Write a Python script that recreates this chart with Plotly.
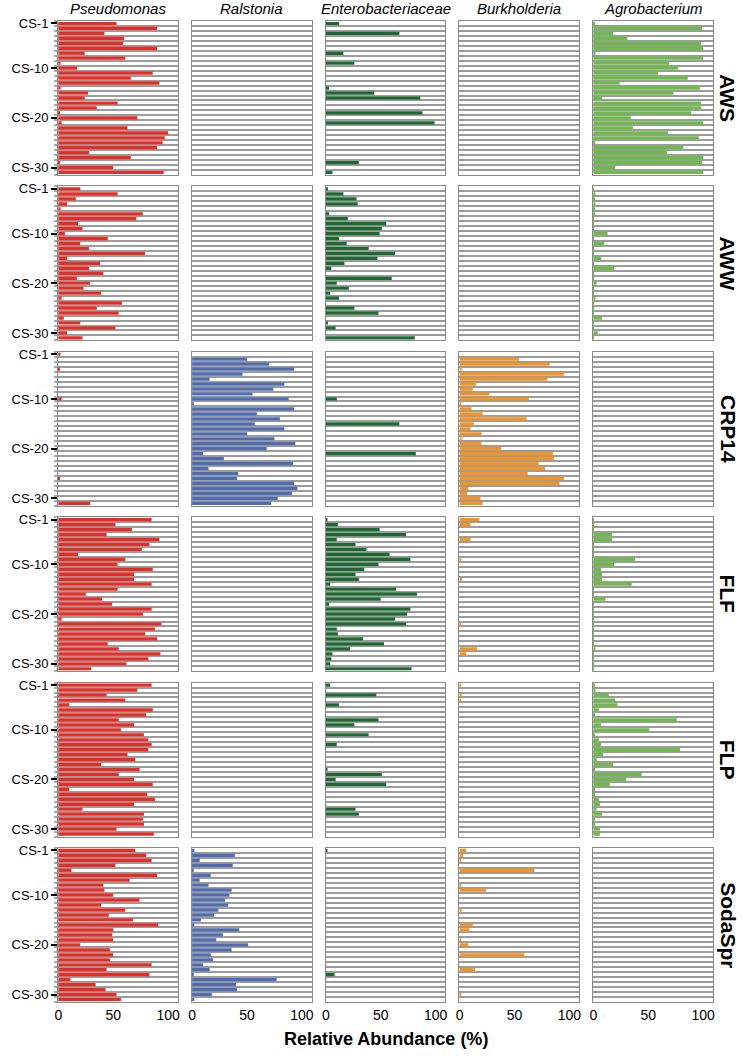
import plotly.graph_objects as go
from plotly.subplots import make_subplots

# relative abundance (%) of five taxa in 31 samples (CS-1 .. CS-31) per site

SITES = ["AWS", "AWW", "CRP14", "FLF", "FLP", "SodaSpr"]
TAXA = ["Pseudomonas", "Ralstonia", "Enterobacteriaceae", "Burkholderia", "Agrobacterium"]
TAXA_COLORS = ["#ec2a23", "#4e6cb3", "#1b6a30", "#f6941f", "#6cbd45"]
SAMPLE_NO = list(range(1, 32))
TICK_SAMPLES = [1, 10, 20, 30]
TICK_LABELS = ["CS-1", "CS-10", "CS-20", "CS-30"]
X_TICKS = [0, 50, 100]

AWS_PSEUDO = [53, 90, 42, 60, 59, 90, 24, 61, 2, 17, 86, 66, 92, 2, 27, 24, 54, 35, 1, 72,
              3, 63, 100, 97, 95, 90, 28, 66, 1, 50, 96]
AWS_ENTERO = [12, 0, 67, 0, 0, 0, 16, 0, 26, 0, 0, 0, 0, 3, 44, 86, 0, 0, 88, 0,
              99, 0, 0, 0, 0, 0, 0, 0, 30, 0, 6]
AWS_AGRO = [1, 99, 18, 31, 98, 100, 2, 100, 69, 77, 59, 86, 24, 97, 73, 8, 98, 98, 89, 34,
            100, 36, 68, 96, 1, 82, 67, 100, 99, 20, 100]

AWW_PSEUDO = [20, 54, 16, 8, 2, 77, 71, 18, 22, 6, 45, 20, 28, 79, 8, 38, 28, 41, 17, 29,
              23, 39, 3, 58, 35, 55, 5, 20, 52, 8, 22]
AWW_ENTERO = [2, 16, 28, 29, 0, 3, 20, 55, 51, 49, 12, 19, 39, 63, 47, 17, 5, 0, 60, 10,
              21, 4, 12, 0, 26, 48, 0, 2, 9, 0, 81]
AWW_AGRO = [0.5, 2, 1, 2, 1, 1, 0.5, 0.5, 0.5, 13, 0.5, 10, 0.5, 0.5, 7, 0.5, 19, 0.5, 0.5, 3,
            0.5, 0.5, 2, 0.5, 0.5, 0.5, 8, 0.5, 0.5, 4, 0.5]

CRP14_PSEUDO = [2, 0, 0, 1, 0, 0, 0, 0, 0, 3, 0, 0, 0, 0, 0, 0, 0, 0, 0, 0,
                0, 0, 0, 0, 0, 1, 0, 0, 0, 0, 29]
CRP14_RALS = [0, 50, 70, 93, 46, 16, 84, 74, 55, 88, 1, 93, 59, 80, 57, 84, 50, 75, 94, 68,
              10, 29, 92, 15, 42, 41, 93, 96, 91, 78, 72]
CRP14_ENTERO = [0, 0, 0, 0, 0, 0, 0, 0, 0, 10, 0, 0, 0, 0, 67, 0, 0, 0, 0, 0,
                82, 0, 0, 0, 0, 0, 0, 0, 0, 0, 0]
CRP14_BURK = [0, 54, 82, 2, 95, 80, 15, 12, 27, 63, 1, 11, 21, 61, 13, 10, 20, 2, 20, 38,
              85, 86, 72, 78, 62, 95, 91, 8, 7, 19, 21]

FLF_PSEUDO = [85, 52, 67, 44, 92, 83, 76, 18, 61, 54, 86, 69, 69, 85, 54, 25, 40, 49, 85, 77,
              3, 94, 88, 79, 90, 45, 55, 93, 82, 62, 30]
FLF_ENTERO = [1, 11, 49, 73, 10, 27, 37, 58, 77, 48, 35, 27, 30, 4, 64, 83, 50, 3, 77, 74,
              63, 73, 10, 11, 34, 53, 22, 6, 5, 4, 78]
FLF_BURK = [18, 10, 0, 0, 10, 0, 0, 0, 1, 0, 0, 0, 2, 0, 0, 0, 0, 0, 0, 0,
            0, 1, 0, 0, 0, 0, 16, 6, 0, 0, 0]
FLF_AGRO = [0.5, 0.5, 0.5, 17, 17, 0.5, 0.5, 0.5, 38, 19, 7, 8, 8, 35, 0.5, 0.5, 11, 0.5, 0.5, 0.5,
            0.5, 0.5, 0.5, 0.5, 0.5, 0.5, 2, 0.5, 0.5, 0.5, 0.5]

FLP_PSEUDO = [85, 72, 44, 61, 10, 86, 80, 55, 69, 57, 78, 82, 85, 82, 63, 70, 39, 74, 55, 69,
              86, 10, 81, 88, 69, 22, 78, 77, 78, 53, 87]
FLP_ENTERO = [4, 0, 46, 0, 12, 0, 0, 48, 26, 0, 39, 0, 10, 0, 0, 0, 0, 1, 51, 9,
              55, 0, 0, 0, 0, 27, 30, 0, 0, 0, 0]
FLP_BURK = [1, 0, 2, 1, 0, 0, 0, 0, 0, 0, 0, 0, 0, 0, 0, 0, 0, 0, 0, 0,
            0, 0, 0, 0, 0, 0, 0, 0, 0, 0, 0]
FLP_AGRO = [1, 2, 14, 20, 22, 5, 1, 76, 7, 51, 1, 5, 7, 79, 9, 3, 18, 1, 44, 30,
            15, 1, 1, 5, 6, 3, 8, 1, 1, 6, 6]

SODA_PSEUDO = [70, 80, 85, 52, 12, 90, 65, 41, 42, 50, 74, 39, 61, 46, 68, 91, 50, 49, 50, 20,
               47, 50, 47, 85, 44, 83, 11, 34, 43, 53, 57]
SODA_RALS = [2, 39, 7, 37, 1, 17, 7, 15, 36, 34, 30, 33, 24, 20, 8, 2, 43, 28, 22, 51,
             36, 17, 19, 10, 16, 1, 77, 40, 41, 18, 2]
SODA_ENTERO = [1, 0, 0, 0, 0, 0, 0, 0, 0, 0, 0, 0, 0, 0, 0, 0, 0, 0, 0, 0,
               0, 0, 0, 0, 0, 8, 0, 0, 0, 0, 0]
SODA_BURK = [6, 3, 1, 0, 68, 0, 0, 1, 24, 0, 0, 0, 2, 0, 0, 12, 9, 0, 1, 8,
             0, 59, 0, 0, 14, 0, 0, 0, 0, 1, 0]

# panels not listed here are empty
abundance = {
    ("AWS", "Pseudomonas"): AWS_PSEUDO,
    ("AWS", "Enterobacteriaceae"): AWS_ENTERO,
    ("AWS", "Agrobacterium"): AWS_AGRO,
    ("AWW", "Pseudomonas"): AWW_PSEUDO,
    ("AWW", "Enterobacteriaceae"): AWW_ENTERO,
    ("AWW", "Agrobacterium"): AWW_AGRO,
    ("CRP14", "Pseudomonas"): CRP14_PSEUDO,
    ("CRP14", "Ralstonia"): CRP14_RALS,
    ("CRP14", "Enterobacteriaceae"): CRP14_ENTERO,
    ("CRP14", "Burkholderia"): CRP14_BURK,
    ("FLF", "Pseudomonas"): FLF_PSEUDO,
    ("FLF", "Enterobacteriaceae"): FLF_ENTERO,
    ("FLF", "Burkholderia"): FLF_BURK,
    ("FLF", "Agrobacterium"): FLF_AGRO,
    ("FLP", "Pseudomonas"): FLP_PSEUDO,
    ("FLP", "Enterobacteriaceae"): FLP_ENTERO,
    ("FLP", "Burkholderia"): FLP_BURK,
    ("FLP", "Agrobacterium"): FLP_AGRO,
    ("SodaSpr", "Pseudomonas"): SODA_PSEUDO,
    ("SodaSpr", "Ralstonia"): SODA_RALS,
    ("SodaSpr", "Enterobacteriaceae"): SODA_ENTERO,
    ("SodaSpr", "Burkholderia"): SODA_BURK,
}

FONT = "Liberation Sans, Arial, Helvetica, sans-serif"
GRID = "#9c9c9c"

fig = make_subplots(rows=len(SITES), cols=len(TAXA),
                    horizontal_spacing=0.021, vertical_spacing=0.0116)

for r, site in enumerate(SITES, 1):
    for c, (taxon, color) in enumerate(zip(TAXA, TAXA_COLORS), 1):
        vals = abundance.get((site, taxon), [])
        # empty panels still get a (data-less) trace so that their axes are drawn
        fig.add_trace(go.Bar(x=vals, y=SAMPLE_NO[:len(vals)], orientation="h", width=0.64,
                             marker=dict(color=color, line_width=0),
                             showlegend=False, hovertemplate="%{x}%<extra></extra>"),
                      row=r, col=c)
        fig.update_xaxes(range=[-0.3, 109], tickvals=X_TICKS, showticklabels=(r == len(SITES)),
                         ticks="", showgrid=False, zeroline=False,
                         showline=True, mirror=True, linecolor="#8a8a8a", linewidth=1,
                         tickfont=dict(size=14, color="black"), row=r, col=c)
        fig.update_yaxes(range=[31.5, 0.5], tickvals=TICK_SAMPLES, ticktext=TICK_LABELS,
                         showticklabels=(c == 1), ticks="outside" if c == 1 else "",
                         ticklen=6, tickwidth=1.5, tickcolor="black",
                         showgrid=False, zeroline=False,
                         showline=True, mirror=True, linecolor="#8a8a8a", linewidth=1,
                         tickfont=dict(size=13, color="black"),
                         minor=dict(tickmode="linear", tick0=0.5, dtick=1,
                                    showgrid=True, gridcolor=GRID, gridwidth=1.8,
                                    ticks="outside" if c == 1 else "", ticklen=3,
                                    tickcolor="#aaaaaa"),
                         row=r, col=c)

# column titles (taxa) above the first row
for c, taxon in enumerate(TAXA, 1):
    fig.add_annotation(text="<i>" + taxon + "</i>", xref="x%d domain" % c if c > 1 else "x domain",
                       yref="y%d domain" % c if c > 1 else "y domain", x=0.5, y=1.078,
                       showarrow=False, yanchor="middle", font=dict(size=15, color="black"))

# row labels (sites) on the right
for r, site in enumerate(SITES, 1):
    idx = (r - 1) * len(TAXA) + 1
    fig.add_annotation(text="<b>" + site + "</b>", xref="paper",
                       yref="y%d domain" % idx if idx > 1 else "y domain",
                       x=1.0226, y=0.5, textangle=90, showarrow=False,
                       xanchor="center", yanchor="middle", font=dict(size=21, color="black"))

fig.add_annotation(text="<b>Relative Abundance (%)</b>", xref="paper", yref="paper",
                   x=0.5, y=-0.038, showarrow=False, yanchor="middle",
                   font=dict(size=18, color="black"))

fig.update_layout(width=743, height=1056, barmode="overlay",
                  margin=dict(l=50, r=30, t=21, b=54),
                  paper_bgcolor="white", plot_bgcolor="white",
                  font=dict(family=FONT, color="black"))

# drop the default page margin so the 743x1056 figure fills the window exactly
fig.write_html("out.html", config={"displayModeBar": False},
               post_script="document.body.style.margin='0';")
